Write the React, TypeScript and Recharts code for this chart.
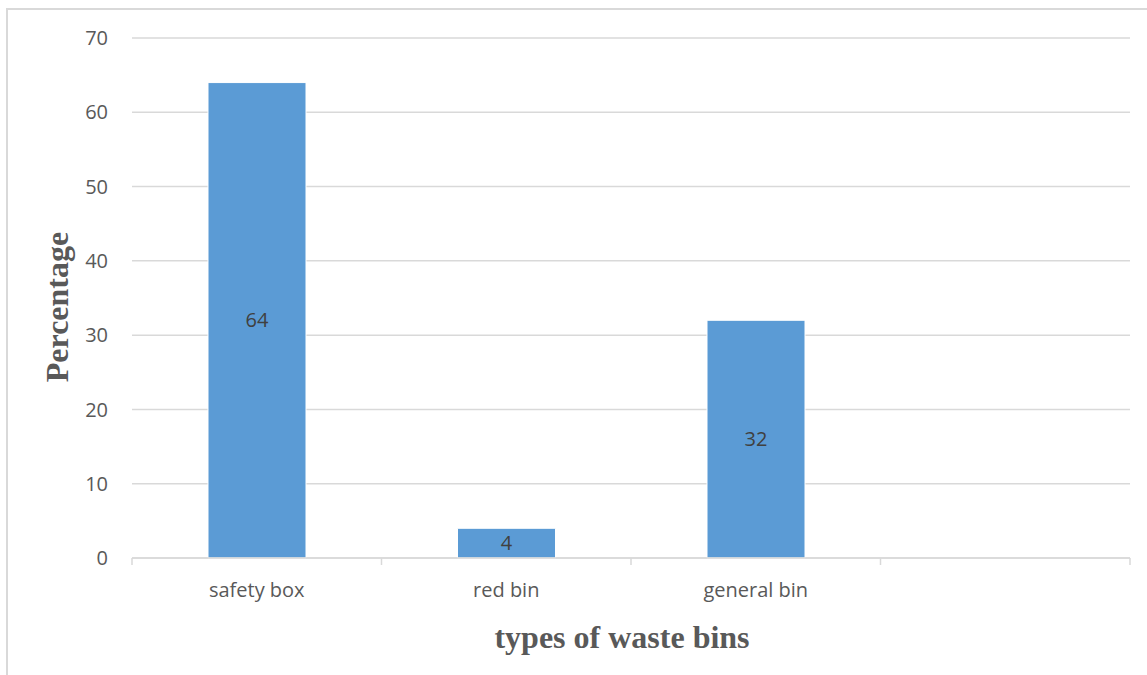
import React from "react";
import { BarChart, Bar, XAxis, YAxis, CartesianGrid, LabelList } from "recharts";

// Share of respondents by type of waste bin used
const categories = ["safety box", "red bin", "general bin", ""];
const percentages = [64, 4, 32, null];
const yTicks = [0, 10, 20, 30, 40, 50, 60, 70];

const data = categories.map((name, i) => ({ name, value: percentages[i] }));

const CHART_W = 1147;
const CHART_H = 675;
const MARGIN = { top: 38, right: 17, bottom: 0, left: 0 };
const Y_AXIS_W = 132;
const X_AXIS_H = 117;

const GRID = "#d9d9d9";
const TEXT = "#595959";
const BAR = "#5b9bd5";
const SANS = "'Open Sans', 'Noto Sans', sans-serif";
const SERIF = "'Liberation Serif', 'Times New Roman', serif";

// Category label plus tick marks on the category boundaries
const CategoryTick = (props: any) => {
  const { x, y, payload, index, visibleTicksCount } = props;
  const plotW = typeof props.width === "number" ? props.width : CHART_W - MARGIN.right - Y_AXIS_W;
  const band = plotW / categories.length;
  const last = index === (visibleTicksCount ?? categories.length) - 1;
  return (
    <g>
      <line x1={x - band / 2} x2={x - band / 2} y1={y} y2={y + 7} stroke={GRID} strokeWidth={1.5} />
      {last && <line x1={x + band / 2} x2={x + band / 2} y1={y} y2={y + 7} stroke={GRID} strokeWidth={1.5} />}
      <text x={x} y={y + 39} textAnchor="middle" fill={TEXT} fontSize={20} fontFamily={SANS}>
        {payload.value}
      </text>
    </g>
  );
};

const XTitle = (props: any) => {
  const { viewBox } = props;
  const cx = viewBox.x + viewBox.width / 2 - 9;
  return (
    <text x={cx} y={viewBox.y + 90} textAnchor="middle" fill={TEXT} fontSize={32} fontWeight="bold" fontFamily={SERIF}>
      types of waste bins
    </text>
  );
};

const YTitle = (props: any) => {
  const { viewBox } = props;
  const cx = viewBox.x + 57;
  const cy = viewBox.y + viewBox.height / 2 + 9;
  return (
    <text
      x={cx}
      y={cy}
      transform={`rotate(-90, ${cx}, ${cy})`}
      textAnchor="middle"
      dominantBaseline="central"
      fill={TEXT}
      fontSize={32}
      fontWeight="bold"
      fontFamily={SERIF}
    >
      Percentage
    </text>
  );
};

export default function App() {
  return (
    <div style={{ position: "absolute", left: 0, top: 0, width: CHART_W, height: CHART_H, overflow: "hidden", background: "#fff" }}>
      <div
        style={{
          position: "absolute",
          left: 6,
          top: 8,
          width: 1160,
          height: 700,
          borderLeft: `2px solid ${GRID}`,
          borderTop: `2px solid ${GRID}`,
        }}
      />
      <div style={{ position: "absolute", left: 0, top: 0 }}>
        <BarChart width={CHART_W} height={CHART_H} data={data} margin={MARGIN} barSize={98}>
          <CartesianGrid vertical={false} stroke={GRID} strokeWidth={1.5} />
          <XAxis
            dataKey="name"
            height={X_AXIS_H}
            axisLine={{ stroke: GRID, strokeWidth: 1.5 }}
            tickLine={false}
            tickSize={0}
            tickMargin={0}
            tick={<CategoryTick />}
            interval={0}
            label={<XTitle />}
          />
          <YAxis
            width={Y_AXIS_W}
            domain={[0, 70]}
            ticks={yTicks}
            axisLine={false}
            tickLine={false}
            tickSize={0}
            tickMargin={24}
            tick={{ fill: TEXT, fontSize: 20, fontFamily: SANS }}
            label={<YTitle />}
          />
          <Bar dataKey="value" fill={BAR} stroke="#ffffff" strokeWidth={1} isAnimationActive={false}>
            <LabelList dataKey="value" position="center" fill="#404040" fontSize={20} fontFamily={SANS} />
          </Bar>
        </BarChart>
      </div>
    </div>
  );
}
